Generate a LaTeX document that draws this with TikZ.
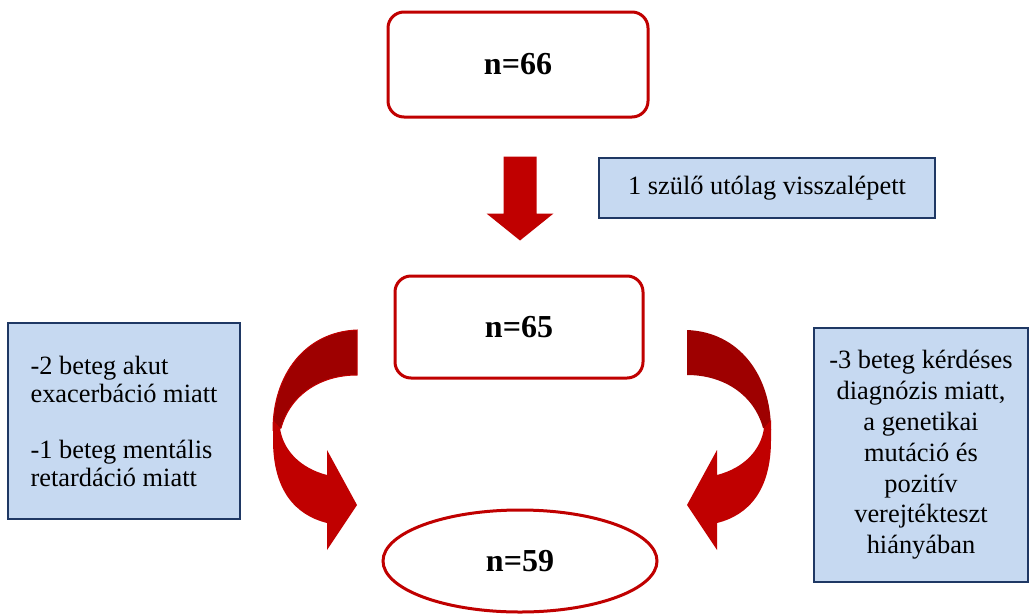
\documentclass[tikz,border=0pt]{standalone}
\usepackage{fontspec}
\setmainfont{Liberation Serif}
\usetikzlibrary{calc}
\usetikzlibrary{shapes.geometric}
\definecolor{box-red}{RGB}{192, 0, 0}
\definecolor{arrow-dark}{RGB}{158, 0, 0}
\definecolor{note-blue}{RGB}{198, 217, 241}
\definecolor{note-border}{RGB}{31, 56, 100}
\tikzset{
  countbox/.style={draw=box-red, line width=2.25pt, fill=white, inner sep=0pt,
    font=\fontsize{24}{28}\selectfont\bfseries},
  notebox/.style={draw=note-border, line width=1.5pt, fill=note-blue, inner sep=0pt,
    font=\fontsize{19.8}{21}\selectfont},
}
\begin{document}
\begin{tikzpicture}[x=0.75pt, y=-0.75pt]
\useasboundingbox (0,0) rectangle (1030,614);
\node[countbox, rounded corners=12pt, minimum width=195pt, minimum height=78.75pt] (n66) at (518,64.5) {n=66};
\node[countbox, rounded corners=12pt, minimum width=186pt, minimum height=76.5pt] (n65) at (519,327) {n=65};
\node[countbox, ellipse, minimum width=205.5pt, minimum height=76.5pt] (n59) at (520,561) {n=59};
\node[notebox, minimum width=252pt, minimum height=45pt] (drop) at (767,188) {1 szülő utólag visszalépett};
\node[notebox, align=left, minimum width=174pt, minimum height=147pt] (left) at (124,421)
  {-2 beteg akut\\exacerbáció miatt\\[21pt]-1 beteg mentális\\retardáció miatt};
\node[notebox, align=center, minimum width=160.5pt, minimum height=190.5pt,
  font=\fontsize{19.8}{23.1}\selectfont] (right) at (921,455)
  {-3 beteg kérdéses\\diagnózis miatt,\\a genetikai\\mutáció és\\pozitív\\verejtékteszt\\hiányában};
% straight arrow
\coordinate (dtop) at ($(n66.south)+(2,38)$);
\coordinate (dtip) at ($(n65.north)+(1,-34)$);
\fill[box-red] ($(dtop)+(-16.5,0)$) -- ($(dtop)+(16.5,0)$) -- ($(dtip)+(16.5,-27)$) -- ($(dtip)+(33.5,-27)$)
  -- (dtip) -- ($(dtip)+(-33.5,-27)$) -- ($(dtip)+(-16.5,-27)$) -- cycle;
% curved arrows
\filldraw[fill=arrow-dark, draw=box-red, line width=0.75pt] (357,330) .. controls (305,332) and (273,375) .. (273,430)
  -- (281,428) .. controls (290,395) and (320,375) .. (357,375) -- cycle;
\fill[box-red] (273,420) -- (273,440) .. controls (273,490) and (295,515) .. (327,523) -- (327,550) -- (357,505)
  -- (327,450) -- (327,475) .. controls (300,468) and (283,450) .. (280,428) -- cycle;
\begin{scope}[xshift=783pt, xscale=-1]
\fill[arrow-dark] (357,330) .. controls (305,332) and (273,375) .. (273,430)
  -- (281,428) .. controls (290,395) and (320,375) .. (357,375) -- cycle;
\fill[box-red] (273,420) -- (273,440) .. controls (273,490) and (295,515) .. (327,523) -- (327,550) -- (357,505)
  -- (327,450) -- (327,475) .. controls (300,468) and (283,450) .. (280,428) -- cycle;
\end{scope}
\end{tikzpicture}
\end{document}
